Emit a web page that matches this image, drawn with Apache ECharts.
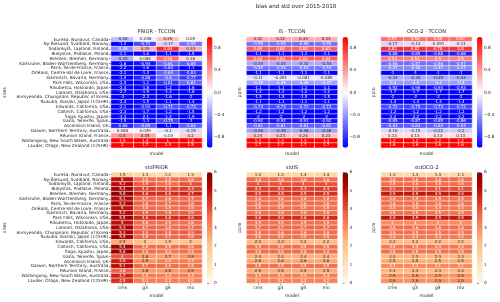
<!DOCTYPE html>
<html><head><meta charset="utf-8">
<script src="https://cdn.jsdelivr.net/npm/echarts@6/dist/echarts.min.js"></script>
<style>html,body{margin:0;padding:0;background:#fff}#c{width:500px;height:302px}</style>
</head><body><div id="c"></div>
<script>
const models = ['cms', 'g3', 'g4', 'mo'];
const sites = [
  'Eureka, Nunavut, Canada',
  'Ny-Ålesund, Svalbard, Norway',
  'Sodankylä, Lapland, Finland',
  'Białystok, Podlasie, Poland',
  'Bremen, Bremen, Germany',
  'Karlsruhe, Baden-Württemberg, Germany',
  'Paris, Île-de-France, France',
  'Orléans, Centre-Val de Loire, France',
  'Garmisch, Bavaria, Germany',
  'Park Falls, Wisconsin, USA',
  'Rikubetsu, Hokkaido, Japan',
  'Lamont, Oklahoma, USA',
  'Anmyeondo, Chungnam, Republic of Korea',
  'Tsukuba, Ibaraki, Japan (125HR)',
  'Edwards, California, USA',
  'Caltech, California, USA',
  'Saga, Kyushu, Japan',
  'Izaña, Tenerife, Spain',
  'Ascension Island, UK',
  'Darwin, Northern Territory, Australia',
  'Réunion Island, France',
  'Wollongong, New South Wales, Australia',
  'Lauder, Otago, New Zealand (125HR)'
];
const mainTitle = 'bias and std over 2015-2018';
const panelTitles = ['PRIOR - TCCON', 'IS - TCCON', 'OCO-2 - TCCON', 'stdPRIOR', 'stdIS', 'stdOCO-2'];
const yNames = ['sites', 'ppm', 'ppm', 'sites', 'ppm', 'ppm'];
const biasTicks = [-0.8, -0.4, 0.0, 0.4, 0.8];
const stdTicks = [0, 1, 2, 3, 4, 5, 6];

// rows = sites, columns = models (cms, g3, g4, mo)
const biasPrior = [
  [-0.26, -0.048, 0.25, 0.05],
  [-1.2, -0.72, -0.17, -0.55],
  [-0.46, 0.29, 0.84, 0.33],
  [-2.1, -1.6, -1.1, -1.5],
  [-0.33, 0.088, 0.58, 0.16],
  [-1.6, -0.93, -0.61, -0.65],
  [-2.2, -1.6, -0.84, -1.1],
  [-2.1, -1.4, -0.64, -0.83],
  [-1.9, -0.88, -0.6, -0.77],
  [-2.5, -1.2, -0.81, -0.61],
  [-2.4, -1.8, -1.2, -1.6],
  [-2.7, -1.9, -1.4, -1.8],
  [-3, -2.3, -1.6, -2],
  [-2.4, -1.5, -1.1, -1.4],
  [-2.1, -0.93, -0.71, -0.73],
  [-2.3, -1.7, -1.2, -1.5],
  [-3.3, -2.1, -1.4, -1.9],
  [-1.5, -1.3, -0.75, -1],
  [-0.86, -0.65, -1.1, -0.64],
  [0.068, 0.049, -0.1, -0.15],
  [0.4, 0.35, -0.03, 0.2],
  [1.9, 1.4, 1, 1.3],
  [2, 1.7, 1.3, 1.5]
];
const biasIS = [
  [0.32, 0.32, 0.33, 0.33],
  [-0.55, -0.55, -0.56, -0.55],
  [0.65, 0.62, 0.62, 0.63],
  [-1.1, -1.1, -1.1, -1.1],
  [0.64, 0.63, 0.66, 0.64],
  [-0.34, -0.34, -0.32, -0.34],
  [-0.55, -0.54, -0.53, -0.54],
  [-1.1, -1.1, -1.1, -1.1],
  [-0.11, -0.091, -0.081, -0.089],
  [-0.38, -0.39, -0.38, -0.37],
  [-1.1, -1.1, -1.1, -1.1],
  [-1.2, -1.2, -1.2, -1.2],
  [-1.5, -1.5, -1.5, -1.5],
  [-1.1, -1.1, -1.1, -1.1],
  [-0.73, -0.73, -0.72, -0.73],
  [-1.2, -1.2, -1.2, -1.2],
  [-2, -2, -2, -2],
  [-0.92, -0.92, -0.91, -0.92],
  [-0.61, -0.61, -0.61, -0.61],
  [-0.36, -0.35, -0.36, -0.36],
  [0.24, 0.23, 0.24, 0.23],
  [1.3, 1.3, 1.3, 1.3],
  [1.7, 1.7, 1.7, 1.7]
];
const biasOCO = [
  [0.57, 0.56, 0.58, 0.57],
  [-0.17, -0.13, -0.091, -0.11],
  [0.82, 0.82, 0.78, 0.8],
  [-0.88, -0.89, -0.88, -0.88],
  [0.53, 0.51, 0.5, 0.5],
  [-0.56, -0.57, -0.56, -0.57],
  [-0.47, -0.48, -0.47, -0.47],
  [-1, -1, -1, -1],
  [-0.33, -0.34, -0.35, -0.34],
  [-0.4, -0.4, -0.4, -0.4],
  [-0.92, -0.96, -0.93, -0.93],
  [-1.7, -1.7, -1.7, -1.7],
  [-2, -2, -2, -2],
  [-1.4, -1.4, -1.4, -1.4],
  [-0.72, -0.75, -0.73, -0.72],
  [-1.2, -1.2, -1.2, -1.2],
  [-2.2, -2.2, -2.2, -2.2],
  [-0.85, -0.87, -0.85, -0.86],
  [-0.63, -0.64, -0.63, -0.63],
  [-0.16, -0.15, -0.22, -0.2],
  [0.13, 0.13, 0.13, 0.13],
  [1.2, 1.2, 1.2, 1.2],
  [1.6, 1.6, 1.6, 1.6]
];
const stdPrior = [
  [1.5, 1.3, 1.2, 1.3],
  [5, 3.6, 3.5, 3.6],
  [5.1, 3.9, 3.6, 4],
  [5.4, 4.3, 4.2, 4.3],
  [5.8, 4.6, 4.6, 4.7],
  [5.1, 3.7, 3.6, 3.7],
  [5.3, 3.8, 3.7, 3.8],
  [5, 3.6, 3.5, 3.6],
  [5.2, 3.9, 3.8, 3.9],
  [5.5, 4.6, 4.6, 4.6],
  [5, 3.6, 3.5, 3.6],
  [5.3, 3.7, 3.6, 3.7],
  [5.3, 3.9, 3.8, 3.9],
  [5.5, 3.8, 3.7, 3.8],
  [2.5, 2, 1.9, 2],
  [5.4, 3.6, 3.5, 3.6],
  [5.6, 3.6, 3.4, 3.5],
  [4, 2.8, 2.7, 2.9],
  [4.8, 2.9, 3.2, 3.3],
  [5.1, 3.7, 3.6, 3.5],
  [3.8, 2.8, 2.8, 2.9],
  [4.7, 3.4, 3.3, 3.3],
  [4.5, 3.3, 3.3, 3.2]
];
const stdIS = [
  [1.4, 1.4, 1.4, 1.4],
  [3.6, 3.6, 3.6, 3.6],
  [4, 4, 4, 4],
  [4.3, 4.3, 4.3, 4.3],
  [4.5, 4.5, 4.5, 4.5],
  [3.6, 3.6, 3.6, 3.6],
  [3.6, 3.6, 3.6, 3.6],
  [3.5, 3.5, 3.5, 3.5],
  [3.6, 3.6, 3.6, 3.6],
  [4.6, 4.6, 4.6, 4.6],
  [3.5, 3.5, 3.5, 3.5],
  [3.7, 3.7, 3.7, 3.7],
  [3.6, 3.6, 3.6, 3.6],
  [3.5, 3.5, 3.5, 3.5],
  [2.3, 2.3, 2.2, 2.2],
  [3.5, 3.5, 3.5, 3.5],
  [3.6, 3.6, 3.6, 3.6],
  [2.4, 2.4, 2.4, 2.4],
  [2.6, 2.6, 2.6, 2.6],
  [3.5, 3.5, 3.5, 3.5],
  [2.5, 2.5, 2.5, 2.5],
  [3.3, 3.3, 3.3, 3.3],
  [3.2, 3.2, 3.2, 3.2]
];
const stdOCO = [
  [1.3, 1.3, 1.3, 1.3],
  [3.6, 3.6, 3.6, 3.6],
  [3.6, 3.6, 3.6, 3.6],
  [4.1, 4.1, 4.1, 4.1],
  [4.9, 4.9, 4.9, 4.9],
  [3.5, 3.5, 3.5, 3.5],
  [3.6, 3.6, 3.6, 3.6],
  [3.4, 3.4, 3.4, 3.4],
  [3.5, 3.5, 3.5, 3.5],
  [4.9, 4.9, 4.9, 4.9],
  [3, 3, 3, 3],
  [3.6, 3.6, 3.6, 3.6],
  [3.5, 3.5, 3.5, 3.5],
  [3.4, 3.4, 3.4, 3.4],
  [2.2, 2.2, 2.2, 2.2],
  [3.4, 3.4, 3.4, 3.4],
  [3.5, 3.5, 3.5, 3.5],
  [2.3, 2.3, 2.3, 2.3],
  [2.5, 2.5, 2.5, 2.5],
  [3.1, 3.1, 3.1, 3.1],
  [2.3, 2.3, 2.3, 2.3],
  [2.9, 2.9, 2.9, 2.9],
  [2.9, 2.9, 2.9, 2.9]
];

const panels = [biasPrior, biasIS, biasOCO, stdPrior, stdIS, stdOCO];
const bwr = ['#0000ff', '#ffffff', '#ff0000'];
const orrd = ['#fff7ec', '#fee8c8', '#fdd49e', '#fdbb84', '#fc8d59', '#ef6548', '#d7301f', '#b30000', '#7f0000'];

// layout
const X0 = [111, 246.5, 381];
const W = 91;
const TOP = [37, 172.3];
const H = 110.8;
const CBX = 96, CBW = 5.5;
const FONT = 'DejaVu Sans';
const TXT = '#262626';

function hexRgb(h) { return [1, 3, 5].map(i => parseInt(h.substr(i, 2), 16)); }
function lin(c) { c /= 255; return c <= 0.04045 ? c / 12.92 : Math.pow((c + 0.055) / 1.055, 2.4); }
function lum(rgb) { return 0.2126 * lin(rgb[0]) + 0.7152 * lin(rgb[1]) + 0.0722 * lin(rgb[2]); }
function cmap(stops, t) {
  t = Math.max(0, Math.min(1, t));
  const s = stops.map(hexRgb), n = s.length - 1, p = t * n;
  const i = Math.min(Math.floor(p), n - 1), f = p - i;
  return s[i].map((c, k) => c + (s[i + 1][k] - c) * f);
}
function fmt2g(v) { return v === 0 ? '0' : String(Number(v.toPrecision(2))); }

const grid = [], xAxis = [], yAxis = [], series = [], visualMap = [], graphic = [];
graphic.push({ type: 'text', x: 296, y: 7, style: { text: mainTitle, fontSize: 5.6, fontFamily: FONT, fill: TXT, textAlign: 'center', textVerticalAlign: 'middle' } });

panels.forEach((vals, p) => {
  const col = p % 3, row = Math.floor(p / 3);
  const isBias = row === 0;
  const vmin = isBias ? -1 : 0, vmax = isBias ? 1 : 6;
  const stops = isBias ? bwr : orrd;
  const left = X0[col], top = TOP[row];
  grid.push({ left: left, top: top, width: W, height: H });
  xAxis.push({
    gridIndex: p, type: 'category', data: models, position: 'bottom',
    axisLine: { show: false },
    axisTick: { show: !isBias, length: 2, alignWithLabel: true, lineStyle: { color: TXT, width: 0.5 } },
    axisLabel: { show: !isBias, fontSize: 4.5, fontFamily: FONT, color: TXT, margin: 2.5 },
    splitLine: { show: false },
    name: 'model', nameLocation: 'middle', nameGap: isBias ? 3.5 : 10.5,
    nameTextStyle: { fontSize: 4.5, fontFamily: FONT, color: TXT }
  });
  yAxis.push({
    gridIndex: p, type: 'category', data: sites, inverse: true,
    axisLine: { show: false },
    axisTick: { show: col === 0, length: 2, alignWithLabel: true, lineStyle: { color: TXT, width: 0.5 } },
    axisLabel: { show: col === 0, fontSize: 4.3, fontFamily: FONT, color: TXT, margin: 2.5, interval: 0 },
    splitLine: { show: false },
    name: yNames[p], nameLocation: 'middle', nameRotate: 90, nameGap: col === 0 ? 104 : 4.5,
    nameTextStyle: { fontSize: 4.5, fontFamily: FONT, color: TXT }
  });
  const data = [];
  vals.forEach((r, yi) => r.forEach((v, xi) => {
    const t = (v - vmin) / (vmax - vmin);
    const c = cmap(stops, t);
    data.push({
      value: [xi, yi, Math.max(vmin, Math.min(vmax, v)), v],
      label: { color: lum(c) > 0.408 ? TXT : '#ffffff' }
    });
  }));
  series.push({
    type: 'heatmap', xAxisIndex: p, yAxisIndex: p, data: data,
    itemStyle: { borderColor: '#ffffff', borderWidth: 0.6 },
    label: { show: true, fontSize: 4, fontFamily: FONT, formatter: q => fmt2g(q.value[3]) },
    emphasis: { disabled: true }, silent: true
  });
  visualMap.push({
    type: 'continuous', seriesIndex: p, dimension: 2, min: vmin, max: vmax,
    inRange: { color: stops }, left: left + CBX, top: top, itemWidth: CBW, itemHeight: H,
    calculable: false, showLabel: false, text: null, padding: 0, orient: 'vertical', hoverLink: false
  });
  graphic.push({ type: 'text', x: left + W / 2, y: top - 5, style: { text: panelTitles[p], fontSize: 5, fontFamily: FONT, fill: TXT, textAlign: 'center', textVerticalAlign: 'middle' } });
});

// colorbar tick axes
panels.forEach((vals, p) => {
  const col = p % 3, row = Math.floor(p / 3);
  const isBias = row === 0;
  const gi = grid.length;
  grid.push({ left: X0[col] + CBX, top: TOP[row], width: CBW, height: H });
  xAxis.push({ gridIndex: gi, type: 'value', show: false });
  const ya = {
    gridIndex: gi, type: 'value', position: 'right', min: isBias ? -1 : 0, max: isBias ? 1 : 6,
    axisLine: { show: false }, splitLine: { show: false },
    axisTick: { show: true, length: 2, lineStyle: { color: TXT, width: 0.5 } },
    axisLabel: { fontSize: 4.3, fontFamily: FONT, color: TXT, margin: 1.5, formatter: v => (isBias ? v.toFixed(1) : String(v)).replace('-', '\u2212') }
  };
  if (isBias) {
    ya.axisTick.customValues = biasTicks;
    ya.axisLabel.customValues = biasTicks;
  } else {
    ya.interval = 1;
  }
  yAxis.push(ya);
});

const chart = echarts.init(document.getElementById('c'), null, { renderer: 'canvas' });
chart.setOption({ animation: false, backgroundColor: '#ffffff', grid, xAxis, yAxis, series, visualMap, graphic });
</script></body></html>
